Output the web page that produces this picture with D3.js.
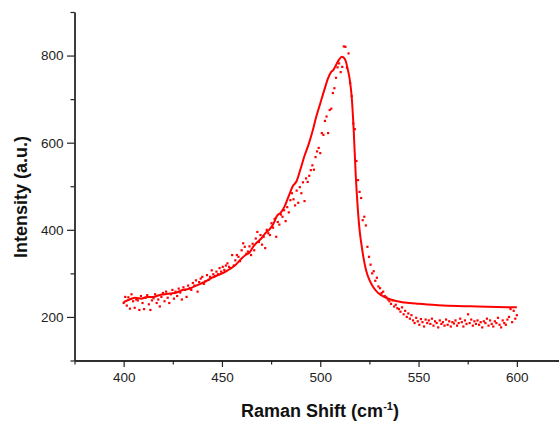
<!DOCTYPE html>
<html><head><meta charset="utf-8">
<script src="https://cdn.jsdelivr.net/npm/d3@7"></script>
<style>
html,body{margin:0;padding:0;background:#fff;}
svg{display:block;font-family:"Liberation Sans",Arial,sans-serif;}
</style></head>
<body>
<svg id="chart" width="559" height="423"></svg>
<script>
// Scatter data: Raman shift starts at 400 cm-1, sampled every 0.8 cm-1
const scatterStart = 400;
const scatterStep = 0.8;
const scatterValues = [
232,246,226,245,219, 252,236,221,240,238, 216,248,232,218,244, 250,229,216,238,243,
252,232,240,224,246, 255,236,258,244,232, 252,262,242,258,248, 265,256,240,268,262,
246,272,266,262,278, 272,284,258,280,288, 292,276,282,296,285, 292,307,298,294,304,
298,312,304,315,308, 318,323,315,312,342, 318,330,342,338,328, 353,369,361,345,350,
362,342,368,353,380, 395,372,388,366,384, 358,400,392,388,415, 405,425,384,418,412,
435,430,445,420,452, 440,468,484,470,456, 490,462,498,484,509, 466,518,510,524,537,
548,538,567,580,588, 576,622,618,650,660, 622,675,678,714,725, 749,773,782,762,774,
821,820,772,805,737, 707,644,631,558,514, 487,473,422,430,410, 361,338,320,300,305,
283,290,270,266,255, 258,248,245,240,236, 230,238,224,228,220, 218,212,222,206,214,
200,208,196,204,192, 186,198,190,182,195, 188,178,194,186,192, 184,196,180,190,186,
176,192,184,188,180, 194,182,190,178,188, 185,192,180,186,196, 188,178,192,184,206,
186,194,180,190,184, 192,182,188,176,190, 186,196,180,192,184, 178,190,186,198,182,
176,192,186,182,194, 200,218,188,214,196, 204
];
// Fitted curve
const fitX = [400,403,406,409,412,415,418,421,424,427,430,433,436,439,442,445,448,451,454,457,460,462,464,466,468,470,472,474,476,478,480,482,484,486,488,490,492,494,496,498,500,502,504,505.5,506.5,508,509.5,511,512,513,514,515,516,517,518,519,520,521,522,523,524,525,527,529,531,534,538,543,550,560,570,580,590,600];
const fitY = [234,240,244,242,246,246,250,252,254,256,262,264,270,276,282,290,296,302,310,320,334,342,348,362,372,380,392,400,412,432,440,455,478,500,512,540,570,595,625,660,690,720,748,762,766,778,790,797,795,787,768,745,705,630,530,455,400,365,336,313,297,285,268,257,250,243,237,233,230,227,225,224,223,222];
// Axis ticks
const xMajorTicks = [400,450,500,550,600];
const xMinorTicks = [375,425,475,525,575,625];
const yMajorTicks = [200,400,600,800];
const yMinorTicks = [100,300,500,700,900];
const xTitle = "Raman Shift (cm";
const xTitleSup = "-1";
const yTitle = "Intensity (a.u.)";

const svg = d3.select("#chart");
const x = d3.scaleLinear().domain([375,625]).range([74.5,566]);
const y = d3.scaleLinear().domain([100,900]).range([360.5,12]);
const red = "#ff0000";

// fit line
const line = d3.line().x((d,i)=>x(fitX[i])).y(d=>y(d)).curve(d3.curveMonotoneX);
svg.append("path").datum(fitY).attr("d",line)
  .attr("fill","none").attr("stroke",red).attr("stroke-width",2);

// scatter
svg.append("g").selectAll("rect").data(scatterValues).join("rect")
  .attr("x",(d,i)=>x(scatterStart+i*scatterStep)-1.1)
  .attr("y",d=>y(d)-1.1)
  .attr("width",2.2).attr("height",2.2).attr("fill",red);

// axes
function styleAxis(g){
  g.selectAll("path.domain").attr("stroke","#222").attr("stroke-width",1.3);
  g.selectAll(".tick line").attr("stroke","#222").attr("stroke-width",1.2);
  g.selectAll(".tick text").attr("fill","#222").style("font-size","13.5px")
   .style("font-family","'Liberation Sans',Arial,sans-serif");
}
const gxMinor = svg.append("g").attr("transform","translate(0,360.5)")
  .call(d3.axisBottom(x).tickValues(xMinorTicks).tickSize(4).tickSizeOuter(0).tickFormat(""));
styleAxis(gxMinor);
const gx = svg.append("g").attr("transform","translate(0,360.5)")
  .call(d3.axisBottom(x).tickValues(xMajorTicks).tickSize(6.5).tickSizeOuter(0).tickPadding(5).tickFormat(d3.format("d")));
styleAxis(gx);
const gyMinor = svg.append("g").attr("transform","translate(74.5,0)")
  .call(d3.axisLeft(y).tickValues(yMinorTicks).tickSize(4).tickSizeOuter(0).tickFormat(""));
styleAxis(gyMinor);
const gy = svg.append("g").attr("transform","translate(74.5,0)")
  .call(d3.axisLeft(y).tickValues(yMajorTicks).tickSize(7.5).tickSizeOuter(0).tickPadding(3.5).tickFormat(d3.format("d")));
styleAxis(gy);

// titles
const xt = svg.append("text").attr("x",320).attr("y",417).attr("text-anchor","middle")
  .attr("font-weight","bold").attr("font-size","18px").attr("fill","#111");
xt.append("tspan").text(xTitle);
xt.append("tspan").attr("font-size","11px").attr("dy","-7").text(xTitleSup);
xt.append("tspan").attr("dy","7").text(")");

svg.append("text").attr("transform","translate(27,197) rotate(-90)").attr("text-anchor","middle")
  .attr("font-weight","bold").attr("font-size","18px").attr("fill","#111").text(yTitle);
</script>
</body></html>
